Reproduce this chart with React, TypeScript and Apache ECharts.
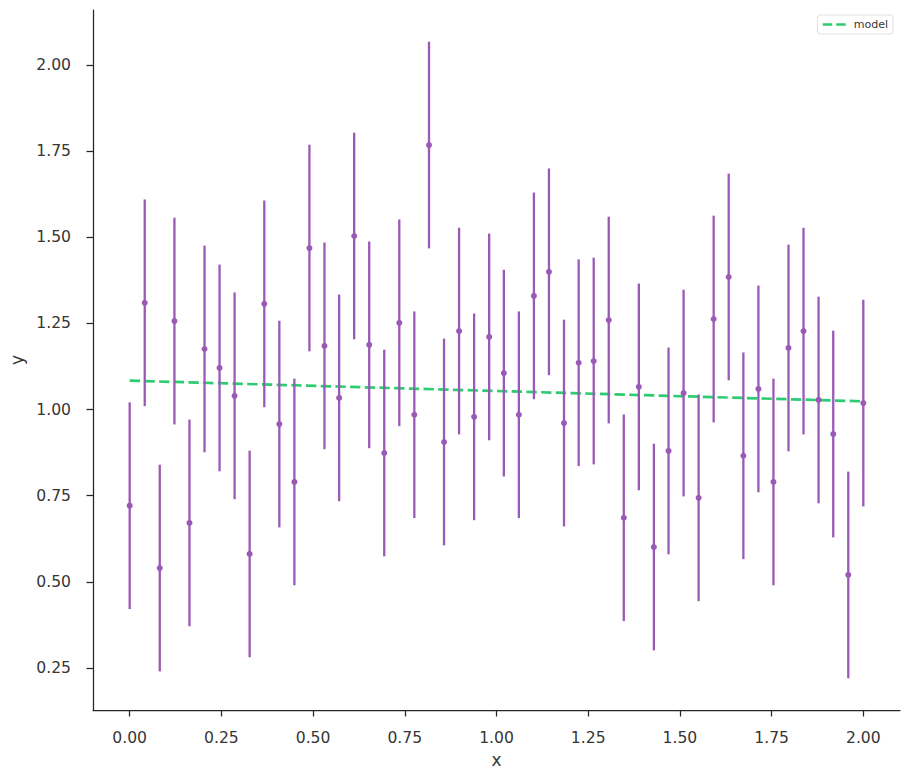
import React, { useEffect, useRef } from 'react';
import * as echarts from 'echarts';

const xValues = [
  0.0, 0.041, 0.082, 0.122, 0.163, 0.204, 0.245, 0.286, 0.327, 0.367,
  0.408, 0.449, 0.49, 0.531, 0.571, 0.612, 0.653, 0.694, 0.735, 0.776,
  0.816, 0.857, 0.898, 0.939, 0.98, 1.02, 1.061, 1.102, 1.143, 1.184,
  1.224, 1.265, 1.306, 1.347, 1.388, 1.429, 1.469, 1.51, 1.551, 1.592,
  1.633, 1.673, 1.714, 1.755, 1.796, 1.837, 1.878, 1.918, 1.959, 2.0,
];

const yValues = [
  0.721, 1.31, 0.54, 1.257, 0.671, 1.176, 1.121, 1.04, 0.581, 1.307,
  0.958, 0.79, 1.469, 1.185, 1.034, 1.504, 1.188, 0.874, 1.252, 0.985,
  1.768, 0.906, 1.228, 0.979, 1.211, 1.106, 0.985, 1.33, 1.4, 0.961,
  1.136, 1.141, 1.26, 0.686, 1.066, 0.601, 0.88, 1.048, 0.744, 1.263,
  1.385, 0.866, 1.06, 0.79, 1.179, 1.228, 1.028, 0.929, 0.52, 1.019,
];

const yErrors = [
  0.3, 0.3, 0.3, 0.3, 0.3, 0.3, 0.3, 0.3, 0.3, 0.3,
  0.3, 0.3, 0.3, 0.3, 0.3, 0.3, 0.3, 0.3, 0.3, 0.3,
  0.3, 0.3, 0.3, 0.3, 0.3, 0.3, 0.3, 0.3, 0.3, 0.3,
  0.3, 0.3, 0.3, 0.3, 0.3, 0.3, 0.3, 0.3, 0.3, 0.3,
  0.3, 0.3, 0.3, 0.3, 0.3, 0.3, 0.3, 0.3, 0.3, 0.3,
];

const modelX = [0.0, 2.0];
const modelY = [1.084, 1.024];
const modelName = 'model';

const xTicks = [0.0, 0.25, 0.5, 0.75, 1.0, 1.25, 1.5, 1.75, 2.0];
const yTicks = [0.25, 0.5, 0.75, 1.0, 1.25, 1.5, 1.75, 2.0];

export default function App() {
  const ref = useRef<HTMLDivElement>(null);

  useEffect(() => {
    if (!ref.current) return;
    const chart = echarts.init(ref.current, null, { renderer: 'svg' });
    const font = 'DejaVu Sans';
    const dark = '#262626';
    const labelColor = '#363636';
    const purple = '#9b59b6';
    const green = '#2ecc71';

    const pointData = xValues.map((x, i) => [x, yValues[i], yErrors[i]]);

    chart.setOption({
      animation: false,
      backgroundColor: '#ffffff',
      textStyle: { fontFamily: font },
      grid: { left: 93, right: 8, top: 10, bottom: 71, containLabel: false },
      legend: {
        data: [modelName],
        right: 15,
        top: 15,
        padding: [4, 5, 4, 4],
        itemWidth: 23,
        itemHeight: 10,
        borderColor: '#e0e0e0',
        borderWidth: 1,
        borderRadius: 3,
        backgroundColor: 'rgba(255,255,255,0.8)',
        itemStyle: { color: 'rgba(0,0,0,0)', borderWidth: 0, opacity: 0 },
        lineStyle: { color: green, width: 2.7, type: [9.5, 4] },
        textStyle: { fontSize: 11, color: labelColor, fontFamily: font, padding: [0, 0, 0, 3] },
      },
      xAxis: {
        type: 'value',
        min: -0.1,
        max: 2.1,
        name: 'x',
        nameLocation: 'middle',
        nameGap: 41,
        nameTextStyle: { fontSize: 17, color: labelColor, fontFamily: font },
        axisLine: { show: true, onZero: false, lineStyle: { color: dark, width: 1.25 } },
        axisTick: { show: true, length: 6.5, customValues: xTicks, lineStyle: { color: dark, width: 1.25 } },
        axisLabel: {
          customValues: xTicks,
          margin: 20,
          fontSize: 15.6,
          color: labelColor,
          fontFamily: font,
          formatter: (v: number) => v.toFixed(2),
        },
        splitLine: { show: false },
      },
      yAxis: {
        type: 'value',
        min: 0.128,
        max: 2.16,
        name: 'y',
        nameLocation: 'middle',
        nameGap: 67,
        nameTextStyle: { fontSize: 17, color: labelColor, fontFamily: font },
        axisLine: { show: true, onZero: false, lineStyle: { color: dark, width: 1.25 } },
        axisTick: { show: true, length: 6.5, customValues: yTicks, lineStyle: { color: dark, width: 1.25 } },
        axisLabel: {
          customValues: yTicks,
          margin: 22,
          fontSize: 15.6,
          color: labelColor,
          fontFamily: font,
          formatter: (v: number) => v.toFixed(2),
        },
        splitLine: { show: false },
      },
      series: [
        {
          name: modelName,
          type: 'line',
          data: modelX.map((x, i) => [x, modelY[i]]),
          symbol: 'none',
          lineStyle: { color: green, width: 2.7, type: [10.3, 4.4] },
          itemStyle: { color: green },
          z: 2,
        },
        {
          type: 'custom',
          data: pointData,
          z: 3,
          renderItem: (params: any, api: any) => {
            const x = api.value(0);
            const y = api.value(1);
            const e = api.value(2);
            const lo = api.coord([x, y - e]);
            const hi = api.coord([x, y + e]);
            return {
              type: 'line',
              shape: { x1: lo[0], y1: lo[1], x2: hi[0], y2: hi[1] },
              style: { stroke: purple, lineWidth: 2.3 },
            };
          },
        },
        {
          type: 'scatter',
          data: pointData.map((d) => [d[0], d[1]]),
          symbol: 'circle',
          symbolSize: 6,
          itemStyle: { color: purple, opacity: 1 },
          z: 4,
        },
      ],
    });

    return () => chart.dispose();
  }, []);

  return (
    <div
      ref={ref}
      style={{ position: 'absolute', left: 0, top: 0, width: 908, height: 781 }}
    />
  );
}
